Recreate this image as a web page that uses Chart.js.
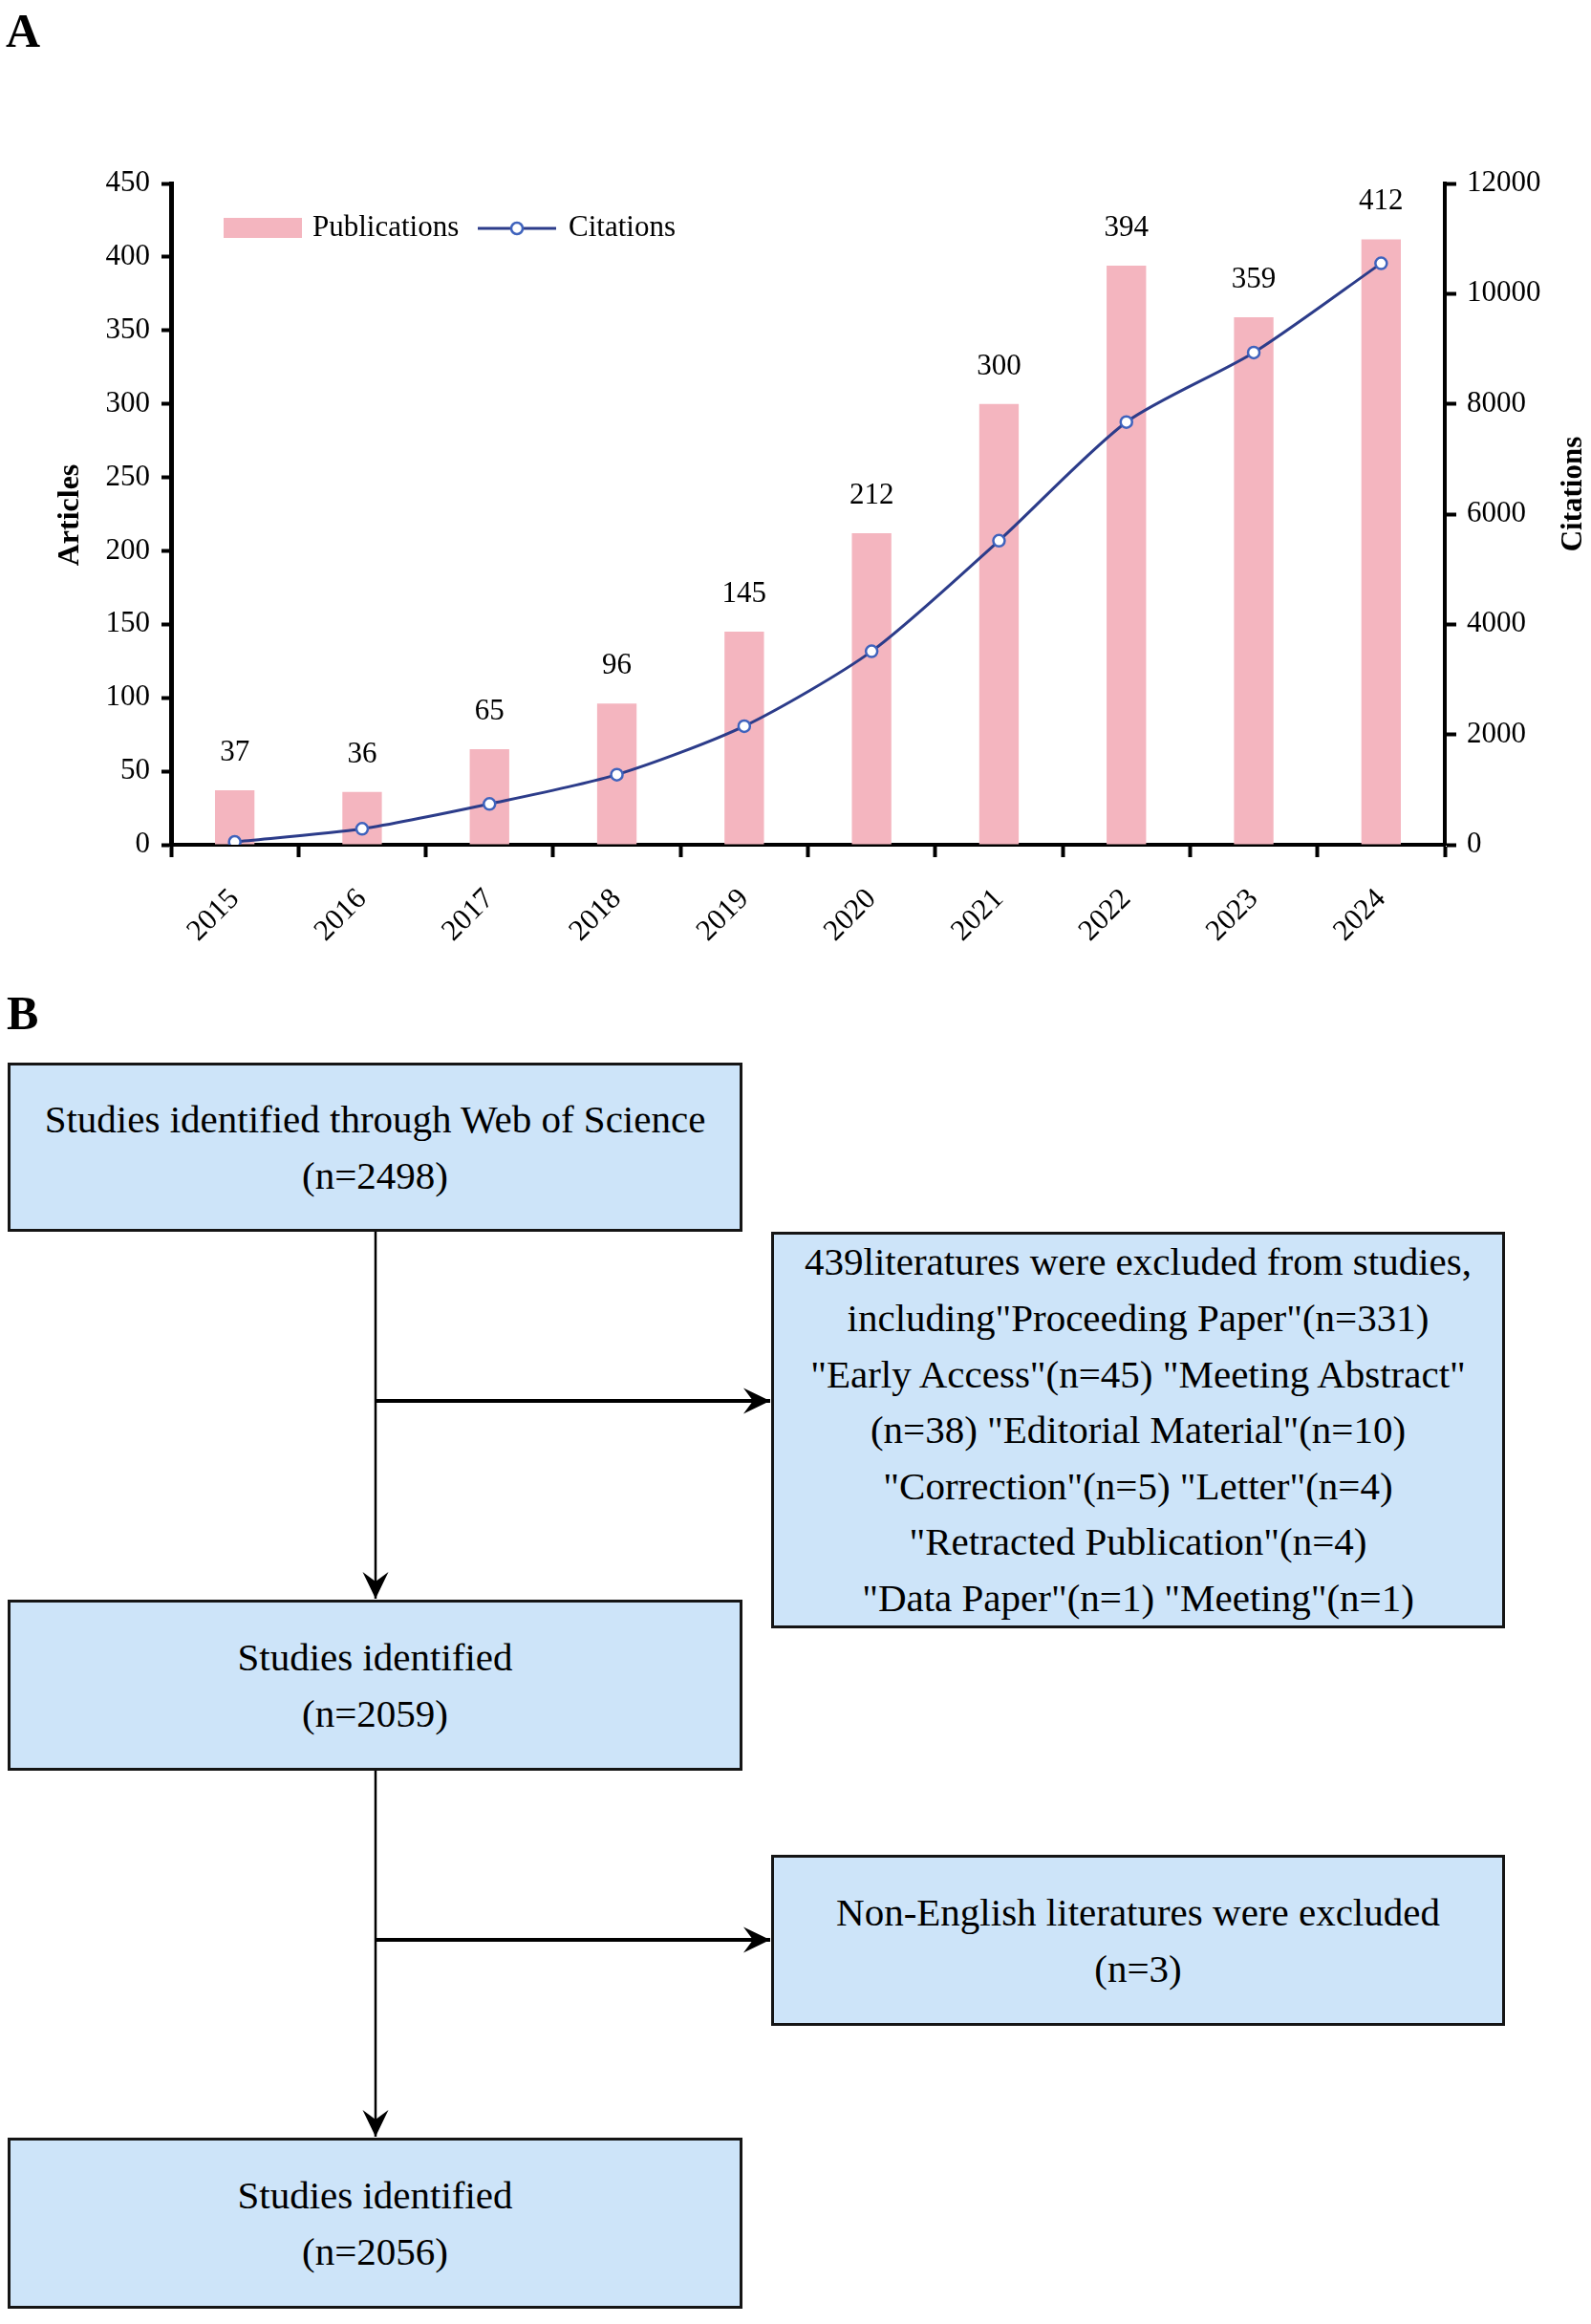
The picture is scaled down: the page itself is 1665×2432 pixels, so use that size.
<!DOCTYPE html>
<html>
<head>
<meta charset="utf-8">
<script src="https://cdn.jsdelivr.net/npm/chart.js@4.4.1/dist/chart.umd.min.js"></script>
<style>
  body { margin: 0; background: #fff; font-family: "Liberation Serif", "Times New Roman", serif; color: #000; }
  #page { position: relative; width: 1665px; height: 2432px; overflow: hidden; }
  #chartWrap { position: absolute; left: 0; top: 0; width: 1665px; height: 1010px; }
  .panel { position: absolute; font-weight: bold; font-size: 50px; line-height: 1; }
  .box {
    position: absolute; box-sizing: border-box;
    background: #cde4f9; border: 3px solid #151515;
    display: flex; align-items: center; justify-content: center;
    text-align: center; font-size: 41px; line-height: 58.6px; white-space: nowrap;
  }
  #arrows { position: absolute; left: 0; top: 0; }
</style>
</head>
<body>
<div id="page">
  <div id="chartWrap"><canvas id="trendChart" width="1665" height="1010"></canvas></div>
  <div class="panel" style="left:6px; top:7px;">A</div>

  <div class="panel" style="left:7px; top:1035px;">B</div>
  <svg id="arrows" width="1665" height="2432">
    <defs>
      <marker id="head" markerUnits="userSpaceOnUse" markerWidth="32" markerHeight="32"
              viewBox="-30 -15 32 30" refX="0" refY="0" orient="auto">
        <path d="M0,0 L-28,-13.5 L-18,0 L-28,13.5 Z" fill="#000"/>
      </marker>
    </defs>
    <line x1="393" y1="1289" x2="393" y2="1673" stroke="#000" stroke-width="2.5" marker-end="url(#head)"/>
    <line x1="393" y1="1466" x2="806" y2="1466" stroke="#000" stroke-width="4" marker-end="url(#head)"/>
    <line x1="393" y1="1853" x2="393" y2="2236" stroke="#000" stroke-width="2.5" marker-end="url(#head)"/>
    <line x1="393" y1="2030" x2="806" y2="2030" stroke="#000" stroke-width="4" marker-end="url(#head)"/>
  </svg>

  <div class="box" style="left:8px; top:1112px; width:769px; height:177px;">
    <div>Studies identified through Web of Science<br>(n=2498)</div>
  </div>
  <div class="box" style="left:807px; top:1289px; width:768px; height:415px;">
    <div>439literatures were excluded from studies,<br>including"Proceeding Paper"(n=331)<br>"Early Access"(n=45) "Meeting Abstract"<br>(n=38) "Editorial Material"(n=10)<br>"Correction"(n=5) "Letter"(n=4)<br>"Retracted Publication"(n=4)<br>"Data Paper"(n=1) "Meeting"(n=1)</div>
  </div>
  <div class="box" style="left:8px; top:1674px; width:769px; height:179px;">
    <div>Studies identified<br>(n=2059)</div>
  </div>
  <div class="box" style="left:807px; top:1941px; width:768px; height:179px;">
    <div>Non-English literatures were excluded<br>(n=3)</div>
  </div>
  <div class="box" style="left:8px; top:2237px; width:769px; height:179px;">
    <div>Studies identified<br>(n=2056)</div>
  </div>
</div>

<script>
const years = ["2015", "2016", "2017", "2018", "2019", "2020", "2021", "2022", "2023", "2024"];
const publications = [37, 36, 65, 96, 145, 212, 300, 394, 359, 412];
const citations = [52, 290, 741, 1272, 2152, 3510, 5518, 7670, 8931, 10550];
const articleAxis = { min: 0, max: 450, step: 50 };
const citationAxis = { min: 0, max: 12000, step: 2000 };

const serif = "'Liberation Serif', 'Times New Roman', serif";
const barColor = "#f4b5bf";
const lineColor = "#2c3c8a";
const pointEdge = "#3f63bd";

// values above bars
const barValues = {
    id: "barValues",
    afterDatasetsDraw(chart) {
        const ctx = chart.ctx;
        const meta = chart.getDatasetMeta(0);
        ctx.save();
        ctx.font = "31px " + serif;
        ctx.fillStyle = "#000";
        ctx.textAlign = "center";
        ctx.textBaseline = "alphabetic";
        meta.data.forEach((bar, i) => {
            ctx.fillText(publications[i], bar.x, bar.y - 31);
        });
        ctx.restore();
    }
};

// legend row: bar box + line with open marker
const legendRow = {
    id: "legendRow",
    afterDraw(chart) {
        const ctx = chart.ctx;
        const bars = chart.data.datasets[0];
        const line = chart.data.datasets[1];
        const y = 239;
        ctx.save();
        ctx.fillStyle = bars.backgroundColor;
        ctx.fillRect(234, 228, 82, 21);
        ctx.font = "31px " + serif;
        ctx.fillStyle = "#000";
        ctx.textBaseline = "middle";
        ctx.fillText(bars.label, 327, y);
        ctx.strokeStyle = line.borderColor;
        ctx.lineWidth = 3;
        ctx.beginPath();
        ctx.moveTo(500, y);
        ctx.lineTo(582, y);
        ctx.stroke();
        ctx.beginPath();
        ctx.arc(541, y, line.pointRadius, 0, Math.PI * 2);
        ctx.fillStyle = line.pointBackgroundColor;
        ctx.fill();
        ctx.lineWidth = line.pointBorderWidth;
        ctx.strokeStyle = line.pointBorderColor;
        ctx.stroke();
        ctx.fillStyle = "#000";
        ctx.fillText(line.label, 595, y);
        ctx.restore();
    }
};

// both axis titles read bottom-to-top
const axisTitles = {
    id: "axisTitles",
    afterDraw(chart) {
        const ctx = chart.ctx;
        const drawUp = (text, x, y, size) => {
            ctx.save();
            ctx.translate(x, y);
            ctx.rotate(-Math.PI / 2);
            ctx.font = "bold " + size + "px " + serif;
            ctx.fillStyle = "#000";
            ctx.textAlign = "center";
            ctx.textBaseline = "middle";
            ctx.fillText(text, 0, 0);
            ctx.restore();
        };
        drawUp("Articles", 74, 539, 32);
        drawUp("Citations", 1647, 517, 31);
    }
};

function loadTrendChart() {
    const ctx = document.getElementById("trendChart");
    if (!ctx) return;

    new Chart(ctx, {
        type: "bar",
        data: {
            labels: years,
            datasets: [{
                type: "bar",
                label: "Publications",
                data: publications,
                backgroundColor: barColor,
                borderWidth: 0,
                barPercentage: 0.31,
                categoryPercentage: 1,
                yAxisID: "y",
                order: 2
            }, {
                type: "line",
                label: "Citations",
                data: citations,
                borderColor: lineColor,
                borderWidth: 3,
                tension: 0.25,
                pointRadius: 6,
                pointBorderWidth: 2.5,
                pointBorderColor: pointEdge,
                pointBackgroundColor: "#ffffff",
                yAxisID: "y1",
                order: 1
            }]
        },
        options: {
            responsive: false,
            animation: false,
            devicePixelRatio: 1,
            layout: { padding: { top: 192, left: 0, right: 0, bottom: 0 } },
            plugins: {
                legend: { display: false },
                tooltip: { enabled: false }
            },
            scales: {
                x: {
                    offset: true,
                    afterFit: (s) => { s.height = 126; },
                    border: { display: true, color: "#000", width: 4 },
                    grid: {
                        offset: true, drawOnChartArea: false, drawTicks: true,
                        tickLength: 13, tickWidth: 4, tickColor: "#000"
                    },
                    ticks: {
                        minRotation: 45, maxRotation: 45, padding: 26,
                        color: "#000", font: { family: serif, size: 31 }
                    }
                },
                y: {
                    position: "left",
                    min: articleAxis.min, max: articleAxis.max,
                    afterFit: (s) => { s.width = 179; },
                    border: { display: true, color: "#000", width: 5 },
                    grid: { drawOnChartArea: false, tickLength: 10, tickWidth: 4, tickColor: "#000" },
                    ticks: {
                        stepSize: articleAxis.step, padding: 12,
                        color: "#000", font: { family: serif, size: 31 },
                        callback: (v) => String(v)
                    }
                },
                y1: {
                    position: "right",
                    min: citationAxis.min, max: citationAxis.max,
                    afterFit: (s) => { s.width = 153; },
                    border: { display: true, color: "#000", width: 4 },
                    grid: { drawOnChartArea: false, tickLength: 12, tickWidth: 4, tickColor: "#000" },
                    ticks: {
                        stepSize: citationAxis.step, padding: 11,
                        color: "#000", font: { family: serif, size: 31 },
                        callback: (v) => String(v)
                    }
                }
            }
        },
        plugins: [barValues, legendRow, axisTitles]
    });
}

document.addEventListener("DOMContentLoaded", () => {
    loadTrendChart();
});
</script>
</body>
</html>
